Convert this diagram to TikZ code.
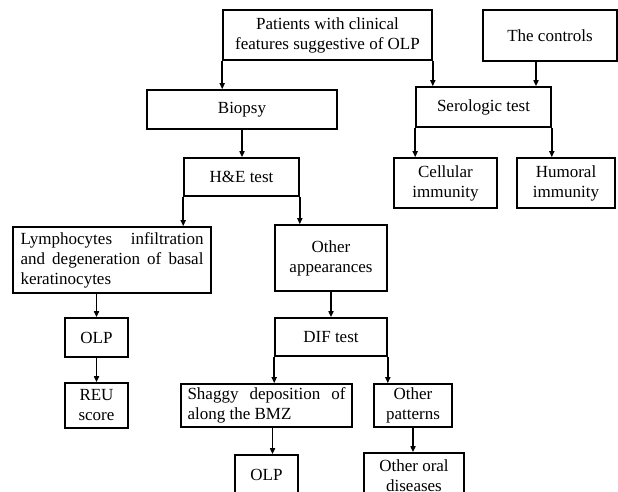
\documentclass[tikz,border=0pt]{standalone}
\usepackage{fontspec}
\setmainfont{Liberation Serif}
\usetikzlibrary{arrows.meta}
\begin{document}
\begin{tikzpicture}[x=1pt,y=-1pt,
  box/.style={draw, line width=1.6pt, align=center, inner sep=2pt,
    font=\fontsize{17}{20}\selectfont},
  arr/.style={line width=1.6pt, -{Triangle[length=6pt,width=5pt]}}]
\useasboundingbox (0,0) rectangle (618,492);
\clip (0,0) rectangle (618,492);
\fill[white] (0,0) rectangle (618,492);
\node[box, minimum width=209, minimum height=50] (pat) at (327.5,35) {Patients with clinical\\features suggestive of OLP};
\node[box, minimum width=134, minimum height=51] (ctl) at (550,35.5) {The controls};
\node[box, minimum width=190, minimum height=39] (bio) at (242,109.5) {Biopsy};
\node[box, minimum width=135, minimum height=40] (ser) at (483.5,107) {Serologic test};
\node[box, minimum width=103, minimum height=50] (cel) at (445.5,183) {Cellular\\immunity};
\node[box, minimum width=98, minimum height=50] (hum) at (566,183) {Humoral\\immunity};
\node[box, minimum width=115, minimum height=38] (he) at (241.5,177) {H\&E test};
\node[box, minimum width=198, minimum height=66, text width=183, inner xsep=7.5pt, align=justify] (lym) at (112,260) {Lymphocytes infiltration and degeneration of basal keratinocytes};
\node[box, minimum width=112, minimum height=66] (oth) at (331,258) {Other\\appearances};
\node[box, minimum width=63, minimum height=39] (olpa) at (96.5,337.5) {OLP};
\node[box, minimum width=63, minimum height=45] (reu) at (96.5,405.5) {REU\\score};
\node[box, minimum width=112, minimum height=38] (dif) at (331,337) {DIF test};
\node[box, minimum width=171, minimum height=43, text width=158, inner xsep=6.5pt, align=justify] (sha) at (266.5,405.5) {Shaggy deposition of along the BMZ};
\node[box, minimum width=78, minimum height=43] (opa) at (413,405.5) {Other\\patterns};
\node[box, minimum width=63, minimum height=46] (olpb) at (266.5,478) {\raisebox{6pt}{OLP}};
\node[box, minimum width=100, minimum height=48] (ood) at (414,477) {\raisebox{2pt}{\begin{tabular}{@{}c@{}}Other oral\\diseases\end{tabular}}};
\draw[arr] (pat.south west) -- (pat.south west |- bio.north);
\draw[arr] (pat.south east) -- (pat.south east |- ser.north);
\draw[arr] ([xshift=-14pt]ctl.south) -- ([xshift=-14pt]ctl.south |- ser.north);
\draw[arr] (ser.south west) -- (ser.south west |- cel.north);
\draw[arr] (ser.south east) -- (ser.south east |- hum.north);
\draw[arr] (bio.south) -- (bio.south |- he.north);
\draw[arr] (he.south west) -- (he.south west |- lym.north);
\draw[arr] (he.south east) -- (he.south east |- oth.north);
\draw[arr] (olpa.north |- lym.south) -- (olpa.north);
\draw[arr] (olpa.south) -- (reu.north);
\draw[arr] (oth.south) -- (oth.south |- dif.north);
\draw[arr] (dif.south west) -- (dif.south west |- sha.north);
\draw[arr] (dif.south east) -- (dif.south east |- opa.north);
\draw[arr] ([xshift=6pt]olpb.north |- sha.south) -- ([xshift=6pt]olpb.north);
\draw[arr] (opa.south) -- (opa.south |- ood.north);
\end{tikzpicture}
\end{document}
